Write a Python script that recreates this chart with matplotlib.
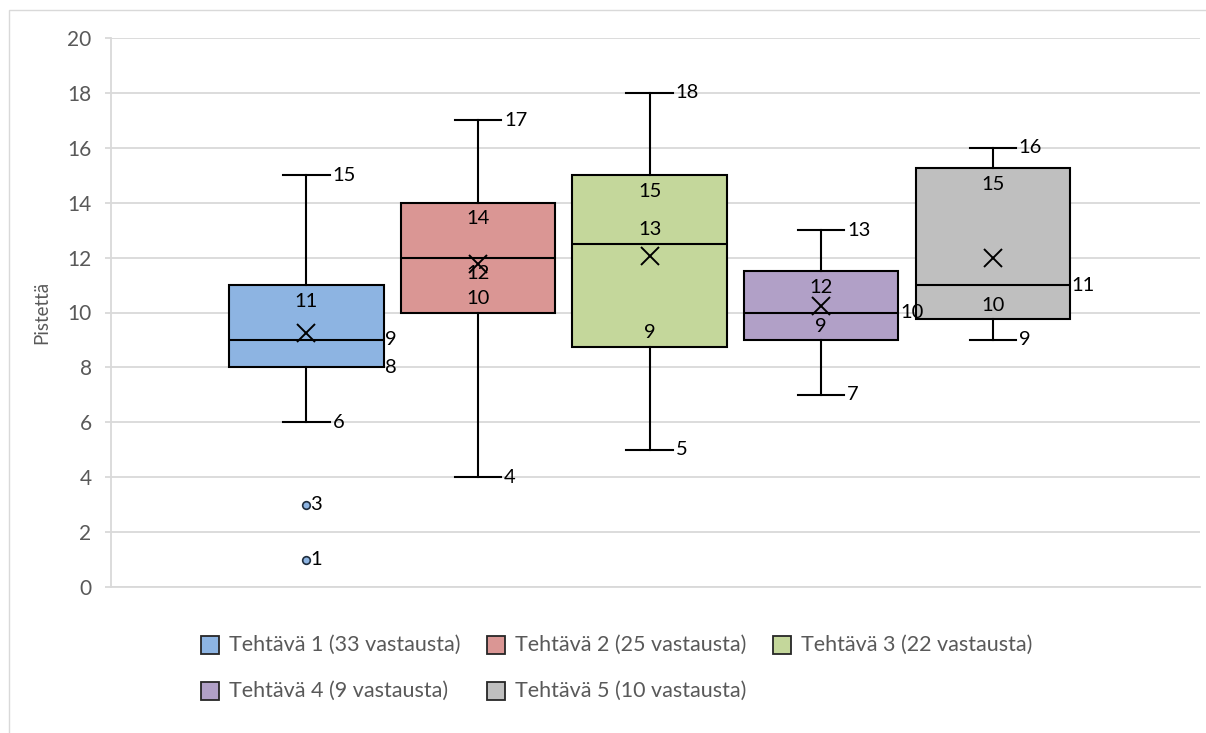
import matplotlib
matplotlib.use("Agg")
import matplotlib.pyplot as plt
from matplotlib.patches import Rectangle
import numpy as np

plt.rcParams['font.family'] = ['Lato', 'DejaVu Sans']

# Box-plot summaries per task
labels = ["Tehtävä 1 (33 vastausta)", "Tehtävä 2 (25 vastausta)", "Tehtävä 3 (22 vastausta)",
          "Tehtävä 4 (9 vastausta)", "Tehtävä 5 (10 vastausta)"]
whislo = [6, 4, 5, 7, 9]
q1 = [8, 10, 8.75, 9, 9.75]
med = [9, 12, 12.5, 10, 11]
q3 = [11, 14, 15, 11.5, 15.25]
whishi = [15, 17, 18, 13, 16]
means = [9.27, 11.76, 12.05, 10.22, 12.0]
fliers = [[3, 1], [], [], [], []]
colors = ["#8DB4E2", "#DA9694", "#C4D79B", "#B1A0C7", "#BFBFBF"]

# Where each value label sits: 'cap' = right of whisker cap, 'below' / 'above' = inside the box
# relative to its value, 'edge' = right of the box edge, 'under_med' = just under the median line
label_pos = [
    {"whishi": "cap", "q3": "below", "med": "edge", "q1": "edge", "whislo": "cap"},
    {"whishi": "cap", "q3": "below", "med": "below", "q1": "above", "whislo": "cap"},
    {"whishi": "cap", "q3": "below", "med": "above", "q1": "above", "whislo": "cap"},
    {"whishi": "cap", "q3": "below", "med": "edge", "q1": "under_med", "whislo": "cap"},
    {"whishi": "cap", "q3": "below", "med": "edge", "q1": "above", "whislo": "cap"},
]

W, H = 1206, 733
fig = plt.figure(figsize=(W / 100, H / 100), dpi=100)

# Chart frame
fig.add_artist(Rectangle((8.5 / W, -0.01), 1.1, (H - 9.5) / H + 0.01, transform=fig.transFigure,
                         fill=False, edgecolor="#D9D9D9", linewidth=1.0))

ax = fig.add_axes([111 / W, (H - 587) / H, (1200 - 111) / W, (587 - 38) / H])
positions = np.arange(1, len(labels) + 1)
stats = []
for i in range(len(labels)):
    stats.append(dict(whislo=whislo[i], q1=q1[i], med=med[i], q3=q3[i], whishi=whishi[i],
                      mean=means[i], fliers=fliers[i], label=labels[i]))

bp = ax.bxp(stats, positions=positions, widths=0.9, capwidths=0.27, patch_artist=True,
            showmeans=True, showfliers=True,
            boxprops=dict(edgecolor="black", linewidth=1.5),
            medianprops=dict(color="black", linewidth=1.5),
            whiskerprops=dict(color="black", linewidth=1.5),
            capprops=dict(color="black", linewidth=1.5),
            meanprops=dict(marker="x", markeredgecolor="black", markersize=13, markeredgewidth=1.4),
            flierprops=dict(marker="o", markersize=5.5, markeredgecolor="#1F2D3D",
                            markeredgewidth=1.2))
for patch, c in zip(bp["boxes"], colors):
    patch.set_facecolor(c)
for fl, c in zip(bp["fliers"], colors):
    fl.set_markerfacecolor(c)

ax.set_xlim(-0.139, 6.207)
ax.set_ylim(0, 20)
ax.set_yticks(np.arange(0, 21, 2))
ax.set_xticks([])
ax.yaxis.grid(True, color="#D9D9D9", linewidth=1.3)
ax.set_axisbelow(True)
for s in ["top", "right"]:
    ax.spines[s].set_visible(False)
ax.spines["left"].set_color("#D9D9D9")
ax.spines["bottom"].set_color("#D9D9D9")
ax.spines["left"].set_linewidth(1.3)
ax.spines["bottom"].set_linewidth(1.3)
ax.tick_params(axis="y", colors="#D9D9D9", length=4, width=1.3, labelcolor="#595959",
               labelsize=15, pad=10)
ax.set_ylabel("Pistettä", color="#595959", fontsize=13.5, labelpad=12)

# Value labels
def fmt(v):
    return str(int(np.floor(v + 0.5)))

LABEL_FS = 14.5
half_box = 0.45
half_cap = 0.135
for i, pos in enumerate(positions):
    vals = {"whishi": whishi[i], "q3": q3[i], "med": med[i], "q1": q1[i], "whislo": whislo[i]}
    for key, where in label_pos[i].items():
        v = vals[key]
        if where == "cap":
            xy, off, ha = (pos + half_cap, v), (2, 0), "left"
        elif where == "edge":
            xy, off, ha = (pos + half_box, v), (1, 0), "left"
        elif where == "below":
            xy, off, ha = (pos, v), (0, -11.5), "center"
        elif where == "above":
            xy, off, ha = (pos, v), (0, 10), "center"
        else:  # under_med
            xy, off, ha = (pos, med[i]), (0, -10), "center"
        ax.annotate(fmt(v), xy, xytext=off, textcoords="offset points",
                    ha=ha, va="center", fontsize=LABEL_FS, color="black")
    for f in fliers[i]:
        ax.annotate(fmt(f), (pos, f), xytext=(3, 0), textcoords="offset points",
                    ha="left", va="center", fontsize=LABEL_FS, color="black")

# Legend
legend_slots = [(201, 645), (487, 645), (773, 645), (201, 691), (487, 691)]
for (lx, ly), lab, c in zip(legend_slots, labels, colors):
    fig.add_artist(Rectangle((lx / W, (H - ly - 9) / H), 18 / W, 18 / H, transform=fig.transFigure,
                             facecolor=c, edgecolor="#262626", linewidth=1.3))
    fig.text((lx + 28) / W, (H - ly) / H, lab, ha="left", va="center", fontsize=15.5,
             color="#595959")

fig.savefig("out.png", dpi=100)
